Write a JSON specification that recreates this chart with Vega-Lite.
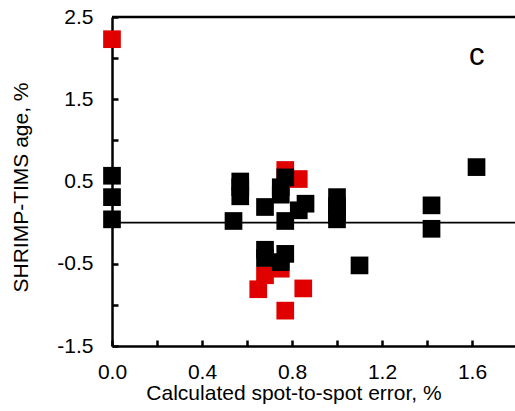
{
  "$schema": "https://vega.github.io/schema/vega-lite/v6.json",
  "width": 403,
  "height": 329,
  "autosize": {"type": "none"},
  "padding": {"left": 112, "top": 17, "right": 0, "bottom": 65},
  "background": "white",
  "config": {
    "view": {"stroke": null},
    "font": "Liberation Sans",
    "axis": {
      "domainColor": "black",
      "domainWidth": 2.5,
      "tickColor": "black",
      "tickWidth": 2.5,
      "tickSize": -6,
      "grid": false,
      "labelFont": "Liberation Sans",
      "labelFontSize": 21,
      "labelColor": "black",
      "titleFont": "Liberation Sans",
      "titleFontSize": 21,
      "titleFontWeight": "normal",
      "titleColor": "black"
    }
  },
  "layer": [
    {
      "data": {"values": [{"ref": 0}]},
      "mark": {"type": "rule", "color": "black", "strokeWidth": 1.7},
      "encoding": {"y": {"field": "ref", "type": "quantitative", "scale": {"domain": [-1.5, 2.5]}}}
    },
    {
      "data": {"values": [{"ref": 2.5}]},
      "mark": {"type": "rule", "color": "black", "strokeWidth": 2.5},
      "encoding": {"y": {"field": "ref", "type": "quantitative", "scale": {"domain": [-1.5, 2.5]}}}
    },
    {
      "data": {
        "values": [
          {"x": 0.0, "y": 2.23, "group": "red"},
          {"x": 0.77, "y": 0.64, "group": "red"},
          {"x": 0.83, "y": 0.53, "group": "red"},
          {"x": 0.75, "y": -0.56, "group": "red"},
          {"x": 0.68, "y": -0.64, "group": "red"},
          {"x": 0.65, "y": -0.81, "group": "red"},
          {"x": 0.85, "y": -0.8, "group": "red"},
          {"x": 0.77, "y": -1.07, "group": "red"},
          {"x": 0.0, "y": 0.57, "group": "black"},
          {"x": 0.0, "y": 0.31, "group": "black"},
          {"x": 0.0, "y": 0.04, "group": "black"},
          {"x": 0.54, "y": 0.02, "group": "black"},
          {"x": 0.57, "y": 0.5, "group": "black"},
          {"x": 0.57, "y": 0.43, "group": "black"},
          {"x": 0.57, "y": 0.32, "group": "black"},
          {"x": 0.68, "y": 0.19, "group": "black"},
          {"x": 0.68, "y": -0.33, "group": "black"},
          {"x": 0.68, "y": -0.43, "group": "black"},
          {"x": 0.75, "y": 0.43, "group": "black"},
          {"x": 0.75, "y": 0.34, "group": "black"},
          {"x": 0.75, "y": -0.48, "group": "black"},
          {"x": 0.77, "y": 0.55, "group": "black"},
          {"x": 0.77, "y": 0.02, "group": "black"},
          {"x": 0.77, "y": -0.38, "group": "black"},
          {"x": 0.83, "y": 0.15, "group": "black"},
          {"x": 0.86, "y": 0.23, "group": "black"},
          {"x": 1.0, "y": 0.31, "group": "black"},
          {"x": 1.0, "y": 0.2, "group": "black"},
          {"x": 1.0, "y": 0.1, "group": "black"},
          {"x": 1.0, "y": 0.04, "group": "black"},
          {"x": 1.1, "y": -0.52, "group": "black"},
          {"x": 1.42, "y": 0.21, "group": "black"},
          {"x": 1.42, "y": -0.075, "group": "black"},
          {"x": 1.62, "y": 0.675, "group": "black"}
        ]
      },
      "mark": {"type": "point", "shape": "square", "filled": true, "size": 313, "opacity": 1, "strokeWidth": 0},
      "encoding": {
        "x": {
          "field": "x", "type": "quantitative",
          "scale": {"domain": [0, 1.791], "nice": false, "zero": false},
          "axis": {
            "title": "Calculated spot-to-spot error, %",
            "values": [0, 0.2, 0.4, 0.6, 0.8, 1.0, 1.2, 1.4, 1.6],
            "labelExpr": "round(datum.value * 10) % 4 == 0 ? format(datum.value, '.1f') : ''",
            "labelPadding": 21,
            "titlePadding": 0,
            "titleX": 181.5,
            "labelFlush": false
          }
        },
        "y": {
          "field": "y", "type": "quantitative",
          "scale": {"domain": [-1.5, 2.5], "nice": false, "zero": false},
          "axis": {
            "title": "SHRIMP-TIMS age, %",
            "values": [-1.5, -1, -0.5, 0, 0.5, 1, 1.5, 2, 2.5],
            "labelExpr": "abs(datum.value % 1) > 0.25 ? replace(format(datum.value, '.1f'), '\u2212', '-') : ''",
            "labelPadding": 25,
            "titlePadding": 25,
            "titleY": 170,
            "labelFlush": false
          }
        },
        "color": {
          "field": "group", "type": "nominal",
          "scale": {"domain": ["red", "black"], "range": ["#e00000", "#000000"]},
          "legend": null
        }
      }
    },
    {
      "data": {"values": [{"x": 1.621, "y": 1.915, "label": "c"}]},
      "mark": {"type": "text", "font": "Liberation Sans", "fontSize": 31, "color": "black", "align": "center", "baseline": "alphabetic"},
      "encoding": {
        "x": {"field": "x", "type": "quantitative"},
        "y": {"field": "y", "type": "quantitative"},
        "text": {"field": "label"}
      }
    }
  ]
}
